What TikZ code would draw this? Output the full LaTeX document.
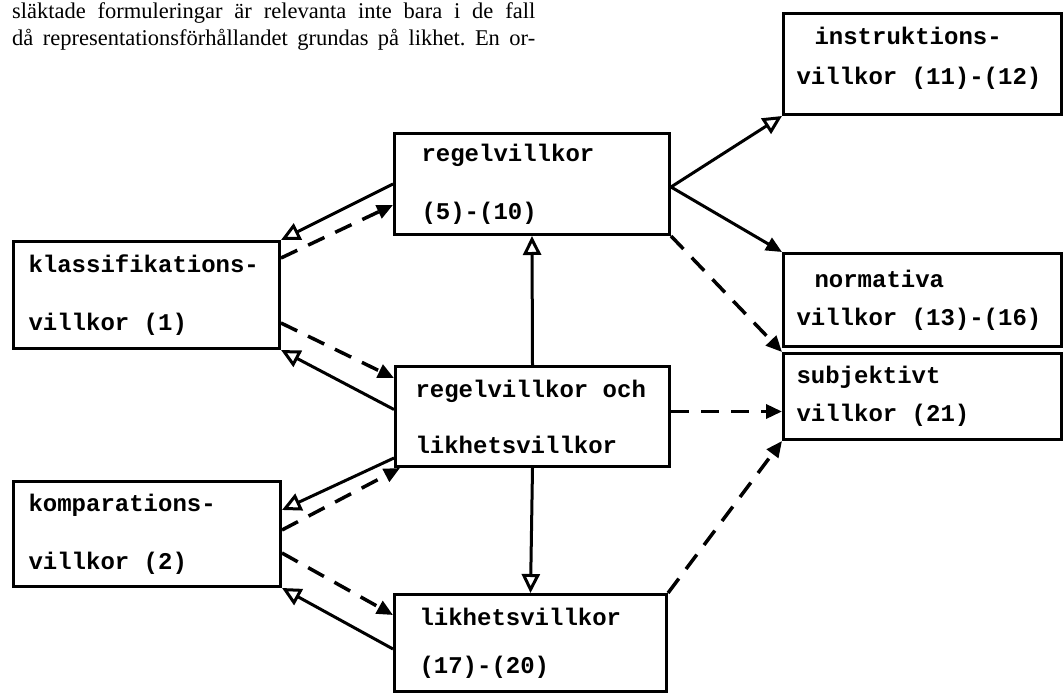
\documentclass[tikz,border=0pt]{standalone}
\usepackage{fontspec}
\setmainfont{Liberation Serif}
\setmonofont{Liberation Mono}
\usetikzlibrary{arrows.meta}
\newcommand\tsp{\hspace*{0.6em}}

\begin{document}
\begin{tikzpicture}[x=1pt,y=-1pt,
  box/.style={draw,line width=3pt,anchor=north west,align=left,inner ysep=0pt,
    font=\fontsize{24}{28}\selectfont\ttfamily\bfseries},
  link/.style={line width=3pt},
  dashlink/.style={line width=3.5pt,dash pattern=on 18pt off 12pt},
  open tip/.style={-{Triangle[open,fill=white,length=19pt,width=18pt]}},
  full tip/.style={-{Triangle[length=16pt,width=14pt]}},
  prose/.style={anchor=base west,inner sep=0pt,font=\fontsize{22.5}{27}\selectfont\frenchspacing}]
\useasboundingbox (0,0) rectangle (1063,695);
    % running text above the figure
    \node[prose] (line1) at (12,19) {\makebox[523pt][s]{släktade formuleringar är relevanta inte bara i de fall}};
    \node[prose] (line2) at (12,46) {\makebox[523pt][s]{då representationsförhållandet grundas på likhet. En or-}};
    % left column
    \node[box,text width=236pt,inner xsep=15pt,minimum height=107pt] (klass) at (12,240) {klassifikations-\\[30pt]villkor\tsp(1)};
    \node[box,text width=237pt,inner xsep=15pt,minimum height=105pt] (komp) at (12,480) {komparations-\\[30pt]villkor\tsp(2)};
    % middle column
    \node[box,text width=221pt,inner xsep=27pt,minimum height=101pt] (regel) at (393,132) {regelvillkor\\[30pt](5)-(10)};
    \node[box,text width=234pt,inner xsep=20pt,minimum height=100pt] (och) at (394,365) {regelvillkor\tsp och\\[28pt]likhetsvillkor};
    \node[box,text width=222pt,inner xsep=25pt,minimum height=97pt] (likhet) at (393,593) {likhetsvillkor\\[20pt](17)-(20)};
    % right column
    \node[box,text width=252pt,inner xsep=13pt,minimum height=101pt] (instr) at (782,12) {\hspace*{18pt}instruktions-\\[12pt]villkor\tsp(11)-(12)\\[-12pt]\mbox{}};
    \node[box,text width=252pt,inner xsep=13pt,minimum height=93pt] (norm) at (782,252) {\hspace*{18pt}normativa\\[10pt]villkor\tsp(13)-(16)};
    \node[box,text width=252pt,inner xsep=13pt,minimum height=86pt] (subj) at (782,352) {subjektivt\\[10pt]villkor\tsp(21)};
    % connectors
    \draw[link,open tip] (regel.west) -- (klass.north east);
    \draw[dashlink,full tip] ([yshift=-18pt]klass.north east) -- ([yshift=-21pt]regel.west);
    \draw[dashlink,full tip] ([yshift=27pt]klass.south east) -- ([yshift=-13pt]och.north west);
    \draw[link,open tip] ([yshift=7pt]och.west) -- (klass.south east);
    \draw[link,open tip] ([yshift=10pt]och.south west) -- ([yshift=-30pt]komp.north east);
    \draw[dashlink,full tip] ([yshift=-50pt]komp.north east) -- ([xshift=6pt]och.south west);
    \draw[dashlink,full tip] ([yshift=35pt]komp.south east) -- ([yshift=-22pt]likhet.north west);
    \draw[link,open tip] ([yshift=-6pt]likhet.west) -- (komp.south east);
    \draw[link,open tip] (och.north) -- (regel.south);
    \draw[link,open tip] (och.south) -- (likhet.north);
    \draw[link,open tip] ([yshift=-3pt]regel.east) -- (instr.south west);
    \draw[link,full tip] ([yshift=-3pt]regel.east) -- (norm.north west);
    \draw[dashlink,full tip] (regel.south east) -- (subj.north west);
    \draw[dashlink,full tip] ([yshift=5pt]och.east) -- ([yshift=-15pt]subj.west);
    \draw[dashlink,full tip] (likhet.north east) -- (subj.south west);
\end{tikzpicture}
\end{document}
